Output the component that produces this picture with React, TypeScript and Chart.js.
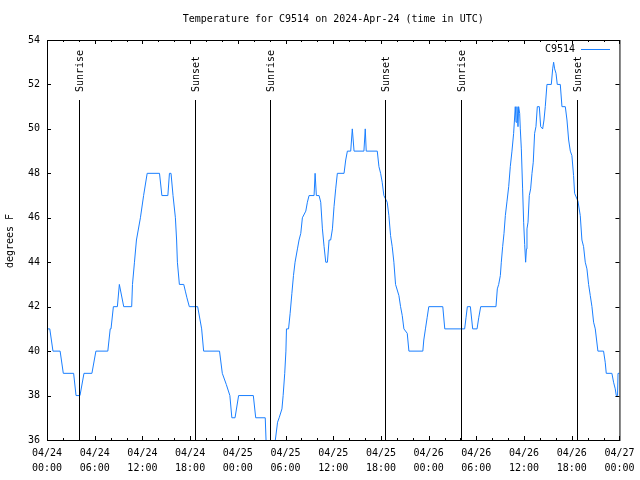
import React, { useEffect, useRef } from "react";
import { Chart, registerables } from "chart.js";

Chart.register(...registerables);

const TITLE = "Temperature for C9514 on 2024-Apr-24 (time in UTC)";
const Y_LABEL = "degrees F";
const SERIES_NAME = "C9514";
const LINE_COLOR = "#1a7fff";
const FONT = "10px 'DejaVu Sans Mono', 'Liberation Mono', monospace";

const X_DATES = ["04/24", "04/24", "04/24", "04/24", "04/25", "04/25", "04/25", "04/25", "04/26", "04/26", "04/26", "04/26", "04/27"];
const X_TIMES = ["00:00", "06:00", "12:00", "18:00", "00:00", "06:00", "12:00", "18:00", "00:00", "06:00", "12:00", "18:00", "00:00"];
const Y_MIN = 36;
const Y_MAX = 54;

const SUN_HOURS = [4.05, 18.56, 28.01, 42.52, 52.09, 66.65];
const SUN_LABELS = ["Sunrise", "Sunset", "Sunrise", "Sunset", "Sunrise", "Sunset"];

// hours since 2024-04-24 00:00 UTC, temperature in F
const day1Hours = [-0.05, 0.08, 0.35, 0.75, 1.65, 2.05, 3.35, 3.65, 4.15, 4.65, 5.65, 6.15, 7.65, 7.95, 8.05, 8.35, 8.85, 9.1, 9.65, 10.65, 10.75, 11.0, 11.25, 11.75, 12.15, 12.6, 14.15, 14.45, 15.2, 15.4, 15.6, 15.85, 16.15, 16.3, 16.4, 16.65, 17.2, 17.4, 17.6, 17.9, 18.95, 19.45, 19.7, 21.7, 22.05, 22.55, 23.0, 23.25, 23.65, 24.1];
const day1Temps = [40, 41, 41, 40, 40, 39, 39, 38, 38, 39, 39, 40, 40, 41, 41, 42, 42, 43, 42, 42, 43, 44, 45, 46, 47, 48, 48, 47, 47, 48, 48, 47, 46, 45, 44, 43, 43, 42.7, 42.4, 42, 42, 41, 40, 40, 39, 38.5, 38, 37, 37, 38];

const day2Hours = [25.95, 26.25, 27.45, 27.65, 28.65, 28.72, 29.0, 29.2, 29.55, 29.7, 29.9, 30.05, 30.12, 30.38, 30.58, 30.8, 31.0, 31.2, 31.5, 31.7, 31.92, 32.12, 32.55, 32.75, 32.96, 33.59, 33.72, 33.88, 34.22, 34.43, 34.64, 34.85, 35.06, 35.27, 35.48, 35.68, 35.9, 36.1, 36.31, 36.52, 37.36, 37.57, 37.78, 38.2, 38.4, 38.62, 39.86, 40.03, 40.15, 41.54, 41.75, 41.96, 42.16, 42.37, 42.79, 43.0, 43.21, 43.42, 43.63, 43.84, 44.26, 44.47, 44.68, 44.89, 45.31, 45.52];
const day2Temps = [38, 37, 37, 35, 35, 36, 36.8, 37, 37.4, 38, 39, 40, 41, 41, 41.7, 42.6, 43.4, 44, 44.6, 45, 45.3, 46, 46.3, 46.7, 47, 47, 48, 47, 47, 46.7, 45.5, 44.7, 44, 44, 45, 45, 45.5, 46.5, 47.3, 48, 48, 48.6, 49, 49, 50, 49, 49, 50, 49, 49, 48.3, 48, 47.6, 47, 46.7, 46.1, 45.2, 44.7, 44, 43, 42.5, 42, 41.6, 41, 40.8, 40];

const day3Hours = [47.27, 47.39, 47.6, 47.81, 48.02, 49.78, 50.03, 52.53, 52.7, 52.87, 53.25, 53.54, 54.09, 54.3, 54.55, 56.47, 56.64, 56.81, 57.02, 57.14, 57.31, 57.48, 57.65, 57.86, 58.07, 58.27, 58.48, 58.69, 58.9, 58.99, 59.11, 59.24, 59.32, 59.45, 59.53, 59.66, 59.82, 59.95, 60.08, 60.2, 60.3, 60.37, 60.5, 60.66, 60.83, 61.0, 61.16, 61.33, 61.5, 61.67, 61.92, 62.09, 62.34, 62.51, 62.67, 62.88, 63.43, 63.6, 63.72, 63.85, 64.02, 64.18, 64.56, 64.77, 65.19, 65.4, 65.61, 65.82, 66.02, 66.23, 66.36, 66.78, 67.07, 67.28, 67.49, 67.7, 67.91, 68.12, 68.33, 68.54, 68.75, 68.96, 69.29, 70.0, 70.21, 70.34, 71.05, 71.26, 71.47, 71.6, 71.76, 71.82, 72.0];
const day3Temps = [40, 40.5, 41, 41.5, 42, 42, 41, 41, 41.5, 42, 42, 41, 41, 41.5, 42, 42, 42.8, 43, 43.4, 44, 44.7, 45.3, 46.1, 46.75, 47.4, 48.3, 49, 49.8, 51, 50.3, 51, 50.1, 51, 50.7, 50, 49.1, 47.3, 45.8, 44.8, 44, 44.6, 45.5, 45.8, 47, 47.3, 48, 48.5, 49.8, 50.1, 51, 51, 50.1, 50, 50.4, 51, 52, 52, 52.7, 53, 52.7, 52.5, 52, 52, 51, 51, 50.4, 49.5, 49, 48.8, 47.9, 47.1, 46.75, 46.1, 45, 44.7, 44, 43.7, 43, 42.5, 42, 41.3, 41, 40, 40, 39.5, 39, 39, 38.6, 38.3, 38, 38, 39, 39];

const framePlugin = {
  id: "gnuplotFrame",
  afterDatasetsDraw(chart: any) {
    const { ctx, chartArea } = chart;
    const xs = chart.scales.x;
    const ys = chart.scales.y;
    const L = chartArea.left, R = chartArea.right, T = chartArea.top, B = chartArea.bottom;
    ctx.save();
    ctx.strokeStyle = "#000";
    ctx.fillStyle = "#000";
    ctx.lineWidth = 1;
    // border
    ctx.strokeRect(L + 0.5, T + 0.5, R - L, B - T);
    // x ticks (every 2h, major every 6h)
    ctx.beginPath();
    for (let h = 0; h <= 72; h += 2) {
      const px = Math.round(xs.getPixelForValue(h)) + 0.5;
      const len = h % 6 === 0 ? 4 : 2;
      ctx.moveTo(px, B);
      ctx.lineTo(px, B - len);
      ctx.moveTo(px, T);
      ctx.lineTo(px, T + len);
    }
    for (let v = Y_MIN; v <= Y_MAX; v += 2) {
      const py = Math.round(ys.getPixelForValue(v)) + 0.5;
      ctx.moveTo(L, py);
      ctx.lineTo(L + 4, py);
      ctx.moveTo(R, py);
      ctx.lineTo(R - 4, py);
    }
    ctx.stroke();
    // sunrise / sunset lines
    ctx.font = FONT;
    const lineTop = Math.round(ys.getPixelForValue(51.3));
    SUN_HOURS.forEach((h, i) => {
      const px = Math.round(xs.getPixelForValue(h)) + 0.5;
      ctx.beginPath();
      ctx.moveTo(px, lineTop);
      ctx.lineTo(px, B);
      ctx.stroke();
      ctx.save();
      ctx.translate(px + 1, lineTop - 8);
      ctx.rotate(-Math.PI / 2);
      ctx.textAlign = "left";
      ctx.textBaseline = "middle";
      ctx.fillText(SUN_LABELS[i], 0, 0);
      ctx.restore();
    });
    // title
    ctx.textAlign = "center";
    ctx.textBaseline = "middle";
    ctx.fillText(TITLE, (L + R) / 2, 19);
    // y label
    ctx.save();
    ctx.translate(10, 241);
    ctx.rotate(-Math.PI / 2);
    ctx.fillText(Y_LABEL, 0, 0);
    ctx.restore();
    // legend
    ctx.textAlign = "right";
    ctx.fillText(SERIES_NAME, 575, 49);
    ctx.strokeStyle = LINE_COLOR;
    ctx.beginPath();
    ctx.moveTo(581, 49.5);
    ctx.lineTo(610, 49.5);
    ctx.stroke();
    ctx.restore();
  },
};

export default function App() {
  const ref = useRef<HTMLCanvasElement | null>(null);
  useEffect(() => {
    document.body.style.margin = "0";
    const canvas = ref.current;
    if (!canvas) return;
    const toPoints = (hs: number[], ts: number[]) => hs.map((h, i) => ({ x: h, y: ts[i] }));
    const data = [
      ...toPoints(day1Hours, day1Temps),
      ...toPoints(day2Hours, day2Temps),
      ...toPoints(day3Hours, day3Temps),
    ];
    const chart = new Chart(canvas, {
      type: "line",
      data: {
        datasets: [
          {
            label: SERIES_NAME,
            data,
            borderColor: LINE_COLOR,
            borderWidth: 1,
            pointRadius: 0,
            tension: 0,
            fill: false,
          },
        ],
      },
      options: {
        animation: false,
        responsive: false,
        devicePixelRatio: 1,
        layout: { padding: { left: 0, right: 19, top: 40, bottom: 0 } },
        plugins: { legend: { display: false }, tooltip: { enabled: false }, title: { display: false } },
        scales: {
          x: {
            type: "linear",
            min: 0,
            max: 72,
            grid: { display: false, drawTicks: false },
            border: { display: false },
            afterFit: (s: any) => { s.height = 40; },
            ticks: {
              stepSize: 6,
              autoSkip: false,
              maxRotation: 0,
              padding: 5.5,
              color: "#000",
              font: { family: "'DejaVu Sans Mono', 'Liberation Mono', monospace", size: 10, lineHeight: 1.5 },
              callback: (v: any) => {
                const i = Math.round(Number(v) / 6);
                return [X_DATES[i], X_TIMES[i]];
              },
            },
          },
          y: {
            type: "linear",
            min: Y_MIN,
            max: Y_MAX,
            grid: { display: false, drawTicks: false },
            border: { display: false },
            afterFit: (s: any) => { s.width = 47; },
            ticks: {
              stepSize: 2,
              padding: 7,
              color: "#000",
              font: { family: "'DejaVu Sans Mono', 'Liberation Mono', monospace", size: 10 },
            },
          },
        },
      },
      plugins: [framePlugin],
    });
    return () => chart.destroy();
  }, []);
  return (
    <div style={{ width: 640, height: 480, background: "#fff" }}>
      <canvas ref={ref} width={640} height={480} style={{ display: "block" }} />
    </div>
  );
}
